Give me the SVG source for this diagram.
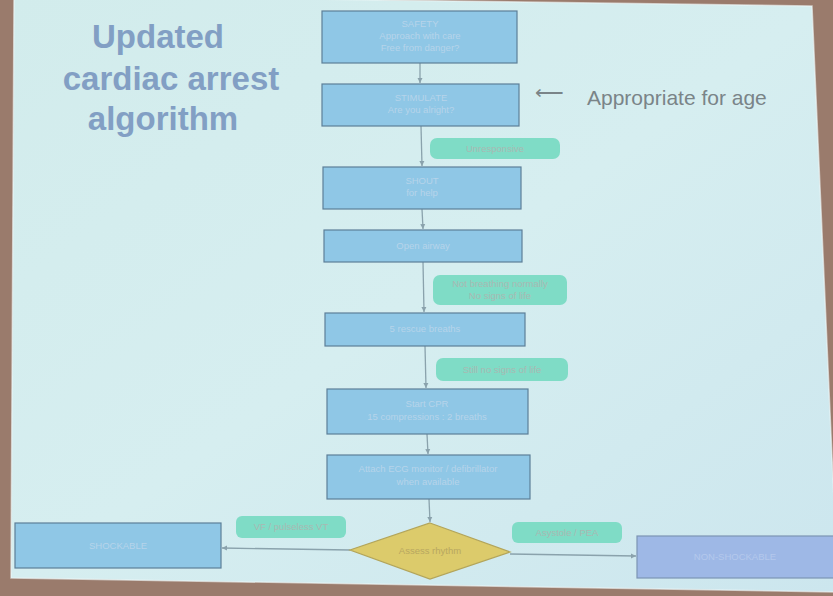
<svg xmlns="http://www.w3.org/2000/svg" width="833" height="596" viewBox="0 0 833 596">
<defs>
<linearGradient id="slide" x1="0" y1="0" x2="1" y2="1">
<stop offset="0" stop-color="#d2ecec"/>
<stop offset="0.5" stop-color="#d6eef0"/>
<stop offset="1" stop-color="#cce6ee"/>
</linearGradient>
<marker id="arr" markerWidth="6" markerHeight="6" refX="5" refY="3" orient="auto" markerUnits="userSpaceOnUse">
<path d="M0,0.5 L5,3 L0,5.5 z" fill="#8aa2ac"/>
</marker>
<style>
.box{fill:#8fc7e6;stroke:#5d7f98;stroke-width:1.2}
.bt{font-family:"Liberation Sans",Arial,sans-serif;font-size:9.5px;fill:#b6d4ea;text-anchor:middle}
.pill{fill:#7fdcc6;stroke:none}
.pt{font-family:"Liberation Sans",Arial,sans-serif;font-size:9.5px;fill:#a9b8b2;text-anchor:middle}
.title{font-family:"Liberation Sans",Arial,sans-serif;font-size:33px;font-weight:bold;fill:#829fc4;text-anchor:middle}
.conn{stroke:#8aa2ac;stroke-width:1.3;fill:none}
</style>
</defs>
<rect x="0" y="0" width="833" height="596" fill="#9a7b6c"/>
<polygon points="14,-5 812,6 838,592 11,578" fill="url(#slide)"/>
<polygon points="14,-5 812,6 838,592 11,578" fill="none" stroke="#f2f8f8" stroke-width="1.5" opacity="0.6"/>

<g id="title">
<text class="title" x="158" y="48">Updated</text>
<text class="title" x="171" y="90">cardiac arrest</text>
<text class="title" x="163" y="130">algorithm</text>
</g>

<g id="note">
<text x="535" y="99" font-family="'Liberation Sans',Arial,sans-serif" font-size="20" fill="#7a8488">⟵</text>
<text x="587" y="105" font-family="'Liberation Sans',Arial,sans-serif" font-size="21" fill="#7a8488">Appropriate for age</text>
</g>

<g id="connectors">
<line class="conn" x1="420" y1="63" x2="420" y2="83" marker-end="url(#arr)"/>
<line class="conn" x1="421" y1="126" x2="422" y2="166" marker-end="url(#arr)"/>
<line class="conn" x1="422" y1="209" x2="423" y2="229" marker-end="url(#arr)"/>
<line class="conn" x1="423" y1="262" x2="424" y2="312" marker-end="url(#arr)"/>
<line class="conn" x1="425" y1="346" x2="426" y2="388" marker-end="url(#arr)"/>
<line class="conn" x1="427" y1="434" x2="428" y2="454" marker-end="url(#arr)"/>
<line class="conn" x1="429" y1="499" x2="430" y2="522" marker-end="url(#arr)"/>
<line class="conn" x1="350" y1="550" x2="222" y2="548" marker-end="url(#arr)"/>
<line class="conn" x1="510" y1="554" x2="636" y2="556" marker-end="url(#arr)"/>
</g>

<g id="safety">
<rect class="box" x="322" y="11" width="195" height="52"/>
<text class="bt" x="420" y="27">SAFETY</text>
<text class="bt" x="420" y="39">Approach with care</text>
<text class="bt" x="420" y="51">Free from danger?</text>
</g>
<g id="stimulate">
<rect class="box" x="322" y="84" width="197" height="42"/>
<text class="bt" x="421" y="101">STIMULATE</text>
<text class="bt" x="421" y="113">Are you alright?</text>
</g>
<g id="unresponsive">
<rect class="pill" x="430" y="138" width="130" height="21" rx="7"/>
<text class="pt" x="495" y="152">Unresponsive</text>
</g>
<g id="shout">
<rect class="box" x="323" y="167" width="198" height="42"/>
<text class="bt" x="422" y="184">SHOUT</text>
<text class="bt" x="422" y="196">for help</text>
</g>
<g id="airway">
<rect class="box" x="324" y="230" width="198" height="32"/>
<text class="bt" x="423" y="249">Open airway</text>
</g>
<g id="notbreathing">
<rect class="pill" x="433" y="275" width="134" height="30" rx="7"/>
<text class="pt" x="500" y="287">Not breathing normally</text>
<text class="pt" x="500" y="299">No signs of life</text>
</g>
<g id="rescue">
<rect class="box" x="325" y="313" width="200" height="33"/>
<text class="bt" x="425" y="332">5 rescue breaths</text>
</g>
<g id="stillno">
<rect class="pill" x="436" y="358" width="132" height="23" rx="7"/>
<text class="pt" x="502" y="373">Still no signs of life</text>
</g>
<g id="cpr">
<rect class="box" x="327" y="389" width="201" height="45"/>
<text class="bt" x="427" y="407">Start CPR</text>
<text class="bt" x="427" y="420">15 compressions : 2 breaths</text>
</g>
<g id="ecg">
<rect class="box" x="327" y="455" width="203" height="44"/>
<text class="bt" x="428" y="472">Attach ECG monitor / defibrillator</text>
<text class="bt" x="428" y="485">when available</text>
</g>
<g id="assess">
<polygon points="430,523 510,552 430,579 350,550" fill="#dccb6b" stroke="#b3a55a" stroke-width="1.2"/>
<text class="bt" x="430" y="554" style="fill:#b8a760">Assess rhythm</text>
</g>
<g id="vf">
<rect class="pill" x="236" y="516" width="110" height="22" rx="6"/>
<text class="pt" x="291" y="530">VF / pulseless VT</text>
</g>
<g id="asystole">
<rect class="pill" x="512" y="522" width="110" height="21" rx="6"/>
<text class="pt" x="567" y="536">Asystole / PEA</text>
</g>
<g id="shockable">
<rect class="box" x="15" y="523" width="206" height="45"/>
<text class="bt" x="118" y="549">SHOCKABLE</text>
</g>
<g id="nonshockable">
<rect x="637" y="536" width="200" height="42" fill="#9eb8e6" stroke="#7c94b4" stroke-width="1.2"/>
<text class="bt" x="735" y="560" style="fill:#b4c8ec">NON-SHOCKABLE</text>
</g>
</svg>
